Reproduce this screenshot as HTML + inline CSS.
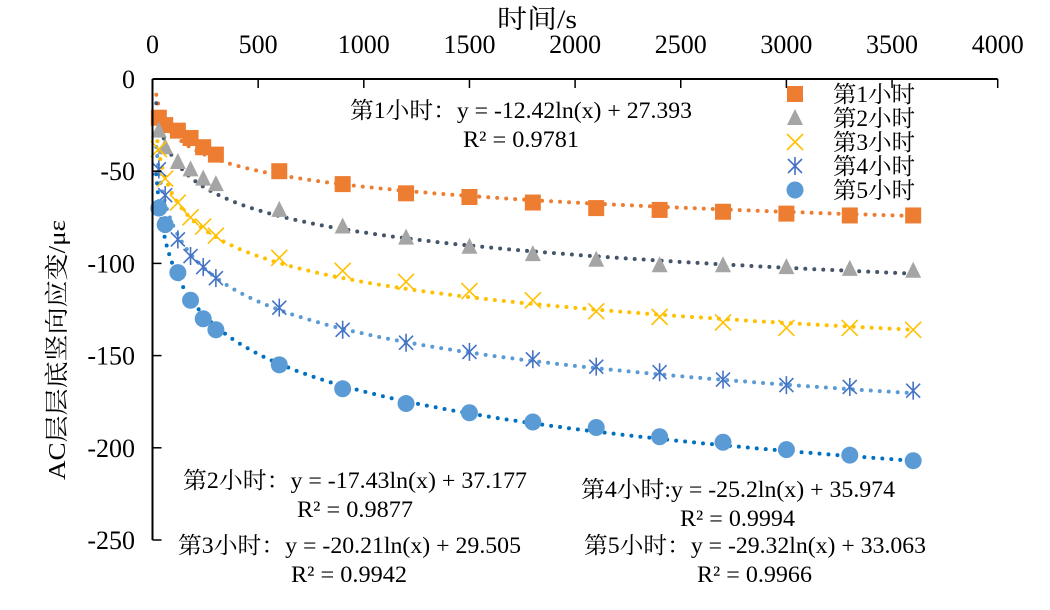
<!DOCTYPE html>
<html><head><meta charset="utf-8"><style>
body{margin:0;background:#fff;}
svg text{font-family:"Liberation Serif","Noto Serif CJK SC",serif;fill:#000;}
</style></head><body>
<svg id="chart" width="1050" height="605" viewBox="0 0 1050 605" xmlns="http://www.w3.org/2000/svg">
<g id="grid"></g><g id="trend"></g><g id="marks"></g><g id="axes"></g>
<g id="labels" font-size="23">
<text x="350" y="118" textLength="342" lengthAdjust="spacingAndGlyphs">第1小时：y = -12.42ln(x) + 27.393</text>
<text x="463" y="147" textLength="116" lengthAdjust="spacingAndGlyphs">R² = 0.9781</text>
<text x="183" y="488" textLength="344" lengthAdjust="spacingAndGlyphs">第2小时：y = -17.43ln(x) + 37.177</text>
<text x="297" y="517" textLength="116" lengthAdjust="spacingAndGlyphs">R² = 0.9877</text>
<text x="178" y="553" textLength="343" lengthAdjust="spacingAndGlyphs">第3小时：y = -20.21ln(x) + 29.505</text>
<text x="291" y="582" textLength="116" lengthAdjust="spacingAndGlyphs">R² = 0.9942</text>
<text x="581" y="497" textLength="314" lengthAdjust="spacingAndGlyphs">第4小时:y = -25.2ln(x) + 35.974</text>
<text x="680" y="526" textLength="115" lengthAdjust="spacingAndGlyphs">R² = 0.9994</text>
<text x="584" y="553" textLength="342" lengthAdjust="spacingAndGlyphs">第5小时：y = -29.32ln(x) + 33.063</text>
<text x="697" y="582" textLength="115" lengthAdjust="spacingAndGlyphs">R² = 0.9966</text>
</g>
<g id="legend" font-size="23"></g>
</svg>
<script>
const times=[30,60,120,180,240,300,600,900,1200,1500,1800,2100,2400,2700,3000,3300,3600];
const s1=[-21,-25,-28,-32,-37,-41,-50,-57,-62,-64,-67,-70,-71,-72,-73,-74,-74];
const s2=[-28,-37,-45,-49,-54,-57,-71,-80,-86,-91,-95,-98,-101,-101,-102,-103,-104];
const s3=[-38,-54,-67,-75,-80,-85,-97,-104,-110,-115,-120,-126,-129,-132,-135,-135,-136];
const s4=[-49,-63,-87,-96,-102,-108,-124,-136,-143,-148,-152,-156,-159,-163,-166,-167,-169];
const s5=[-70,-79,-105,-120,-130,-136,-155,-168,-176,-181,-186,-189,-194,-197,-201,-204,-207];
const slopes=[-12.42,-17.43,-20.21,-25.2,-29.32];
const intercepts=[27.393,37.177,29.505,35.974,33.063];
const xTicks=[0,500,1000,1500,2000,2500,3000,3500,4000];
const yTicks=[0,-50,-100,-150,-200,-250];
const names=["第1小时","第2小时","第3小时","第4小时","第5小时"];

const NS="http://www.w3.org/2000/svg";
const X0=152.5,XS=0.2113,Y0=79,YS=461/250;
const xs=v=>X0+v*XS, ys=v=>Y0-v*YS;
function mk(tag,attrs,parent){const e=document.createElementNS(NS,tag);for(const k in attrs)e.setAttribute(k,attrs[k]);parent.appendChild(e);return e;}
const series=[s1,s2,s3,s4,s5];
const trendCol=["#ED7D31","#44546A","#FFC000","#5B9BD5","#0070C0"];
const markCol=["#ED7D31","#A5A5A5","#FFC000","#4472C4","#5B9BD5"];
const trend=document.getElementById('trend'),marks=document.getElementById('marks'),axes=document.getElementById('axes'),legend=document.getElementById('legend');

function marker(i,cx,cy,parent){
  let g=mk('g',{},parent);
  if(i===0)mk('rect',{x:cx-8,y:cy-8,width:16,height:16,fill:markCol[0]},g);
  else if(i===1)mk('polygon',{points:`${cx},${cy-9} ${cx+8},${cy+7} ${cx-8},${cy+7}`,fill:markCol[1]},g);
  else if(i===2){mk('path',{d:`M${cx-8} ${cy-8}L${cx+8} ${cy+8}M${cx+8} ${cy-8}L${cx-8} ${cy+8}`,stroke:markCol[2],'stroke-width':1.6,fill:'none'},g);}
  else if(i===3){mk('path',{d:`M${cx-7} ${cy-7}L${cx+7} ${cy+7}M${cx+7} ${cy-7}L${cx-7} ${cy+7}M${cx} ${cy-9}L${cx} ${cy+9}`,stroke:markCol[3],'stroke-width':1.6,fill:'none'},g);}
  else mk('circle',{cx:cx,cy:cy,r:8.5,fill:markCol[4]},g);
  return g;
}

slopes.forEach((a,i)=>{
  let d='';
  for(let t=18;t<=3600;t+=6){const v=a*Math.log(t)+intercepts[i];d+=(d?'L':'M')+xs(t).toFixed(1)+' '+ys(v).toFixed(1);}
  const p=mk('path',{d:d,fill:'none',stroke:trendCol[i],'stroke-width':4,'stroke-linecap':'round','stroke-dasharray':'0 9'},trend);
  
  
});
series.forEach((s,i)=>{
  s.forEach((v,j)=>{
    const g=marker(i,xs(times[j]),ys(v),marks);
    
    
  });
});
const xl=mk('line',{x1:X0,y1:Y0,x2:xs(4000),y2:Y0,stroke:'#000','stroke-width':2},axes);


const yl=mk('line',{x1:X0,y1:Y0,x2:X0,y2:ys(-250),stroke:'#000','stroke-width':2},axes);


xTicks.forEach(t=>{
  mk('line',{x1:xs(t),y1:Y0,x2:xs(t),y2:Y0+9,stroke:'#000','stroke-width':1.5},axes);
  const tx=mk('text',{x:xs(t),y:53,'text-anchor':'middle','font-size':26},axes);tx.textContent=t;
  
  
});
yTicks.forEach(t=>{
  mk('line',{x1:X0,y1:ys(t),x2:X0+9,y2:ys(t),stroke:'#000','stroke-width':1.5},axes);
  const tx=mk('text',{x:135,y:ys(t)+9,'text-anchor':'end','font-size':26},axes);tx.textContent=t;
  
  
});
const xt=mk('text',{x:497,y:28,'font-size':26,textLength:80,lengthAdjust:'spacingAndGlyphs'},axes);xt.textContent='时间/s';


const yt=mk('text',{x:0,y:0,'font-size':24,textLength:260,lengthAdjust:'spacingAndGlyphs',transform:'translate(65,480) rotate(-90)'},axes);yt.textContent='AC层层底竖向应变/με';


names.forEach((n,i)=>{
  const y=94+i*24;
  const g=mk('g',{},legend);
  
  
  marker(i,795,y,g);
  const tx=mk('text',{x:833,y:y+8,textLength:82,lengthAdjust:'spacingAndGlyphs'},g);tx.textContent=n;
});
</script>
</body></html>
